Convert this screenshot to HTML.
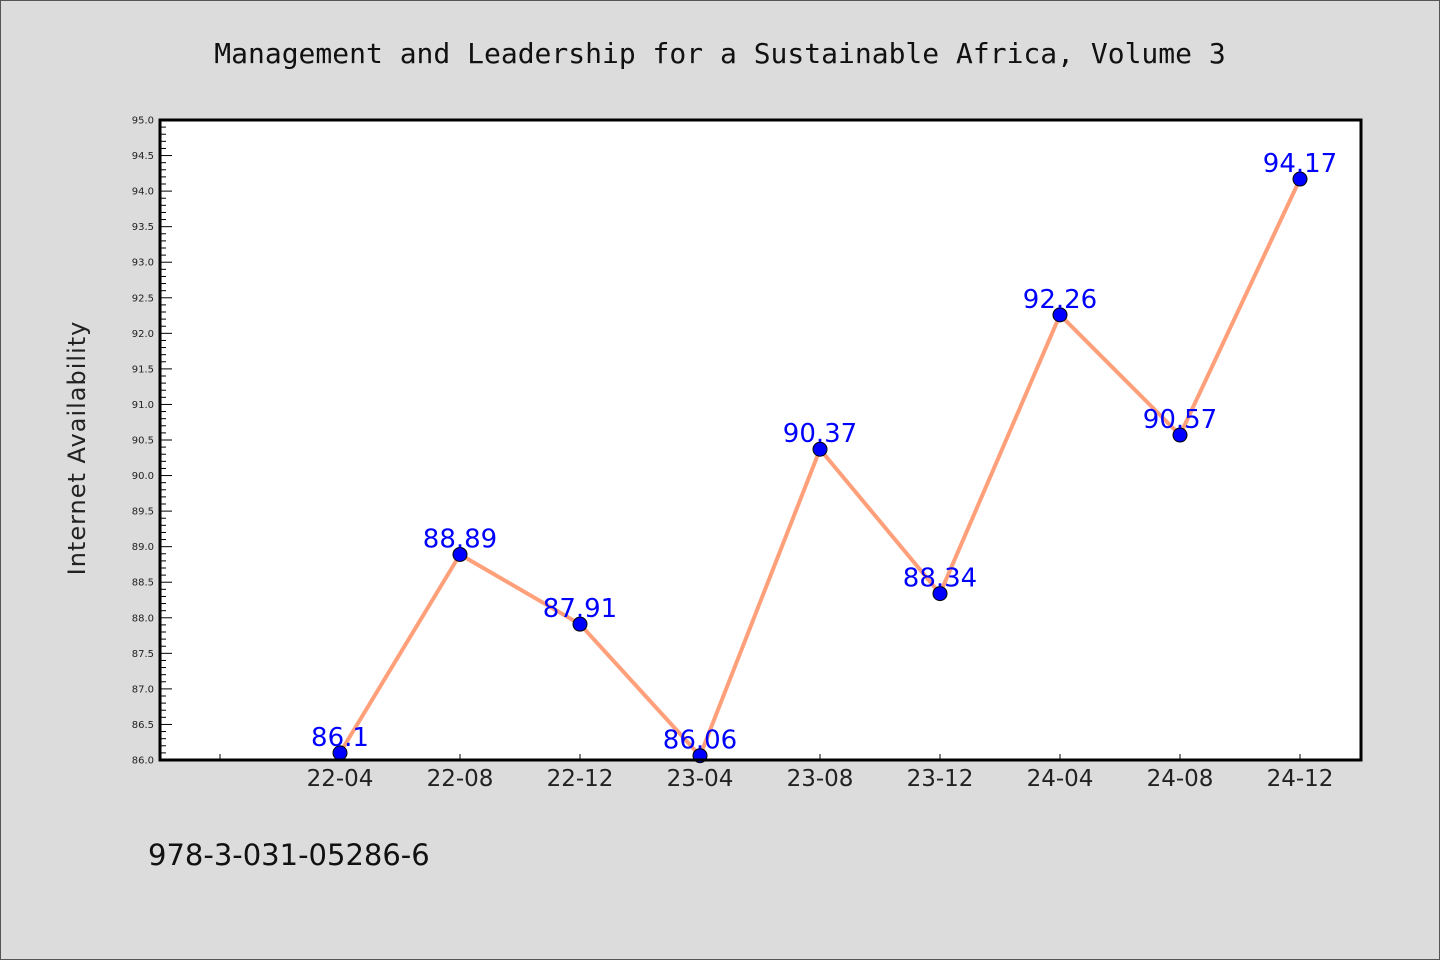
<!DOCTYPE html>
<html><head><meta charset="utf-8"><style>
html,body{margin:0;padding:0;background:#dcdcdc;}
svg{display:block;}
</style></head><body>
<svg id="chart" width="1440" height="960" xmlns="http://www.w3.org/2000/svg">
<rect x="0.5" y="0.5" width="1439" height="959" fill="#dcdcdc" stroke="#555" stroke-width="1"/>
<text x="720" y="63" text-anchor="middle" font-family="'DejaVu Sans Mono','Liberation Mono',monospace" font-size="28" fill="#111">Management and Leadership for a Sustainable Africa, Volume 3</text>
<rect x="160" y="120" width="1201" height="640" fill="#fff"/>
<g id="yticks"></g><g id="xticks"></g>
<text transform="translate(85,448) rotate(-90)" text-anchor="middle" font-family="'DejaVu Sans','Liberation Sans',sans-serif" font-size="24" letter-spacing="1" fill="#222">Internet Availability</text>
<g id="series"></g>
<rect x="160" y="120" width="1201" height="640" fill="none" stroke="#000" stroke-width="3"/>
<text x="148" y="865" font-family="'DejaVu Sans','Liberation Sans',sans-serif" font-size="29" fill="#111">978-3-031-05286-6</text>
</svg>
<script>
const categories = ["", "22-04","22-08","22-12","23-04","23-08","23-12","24-04","24-08","24-12"];
const values = [null, 86.1, 88.89, 87.91, 86.06, 90.37, 88.34, 92.26, 90.57, 94.17];
const valueLabels = ["", "86.1","88.89","87.91","86.06","90.37","88.34","92.26","90.57","94.17"];
const yMin = 86, yMax = 95;
const NS = "http://www.w3.org/2000/svg";
const L=160,R=1360,T=120,B=760;
function xScale(i){return L+(R-L)/categories.length*(i+0.5);}
function yScale(v){return B-(v-yMin)/(yMax-yMin)*(B-T);}
function mk(tag,attrs,parent,text){const e=document.createElementNS(NS,tag);for(const k in attrs)e.setAttribute(k,attrs[k]);if(text!==undefined)e.textContent=text;parent.appendChild(e);return e;}
const yt=document.getElementById('yticks');
for(let k=0;k<=(yMax-yMin)*10;k++){
  const v=yMin+k/10, y=yScale(v), major=k%5===0;
  const t=mk('line',{x1:L,x2:L+(major?12:6),y1:y,y2:y,stroke:'#000','stroke-width':1},yt);
  
  
  if(major){
    const lb=mk('text',{x:L-6,y:y+3.5,'text-anchor':'end','font-family':"'DejaVu Sans','Liberation Sans',sans-serif",'font-size':10,fill:'#222'},yt,v.toFixed(1));
    
    
  }
}
const xt=document.getElementById('xticks');
categories.forEach((c,i)=>{
  const x=xScale(i);
  const t=mk('line',{x1:x,x2:x,y1:B,y2:B-6,stroke:'#000','stroke-width':1},xt);
  
  
  if(c){
    const lb=mk('text',{x:x,y:B+26,'text-anchor':'middle','font-family':"'DejaVu Sans','Liberation Sans',sans-serif",'font-size':23,fill:'#222'},xt,c);
    
    
  }
});
const s=document.getElementById('series');
const pts=[];values.forEach((v,i)=>{if(v!==null)pts.push([xScale(i),yScale(v)]);});
const line=mk('polyline',{points:pts.map(p=>p.join(',')).join(' '),fill:'none',stroke:'#ffa07a','stroke-width':4,'stroke-linejoin':'round'},s);


values.forEach((v,i)=>{
  if(v===null)return;
  const c=mk('circle',{cx:xScale(i),cy:yScale(v),r:7,fill:'#0000ff',stroke:'#000','stroke-width':1},s);
  
  
  const lb=mk('text',{x:xScale(i),y:yScale(v)-7,'text-anchor':'middle','font-family':"'DejaVu Sans','Liberation Sans',sans-serif",'font-size':26,fill:'#0000ff'},s,valueLabels[i]);
  
  
});
</script>
</body></html>
